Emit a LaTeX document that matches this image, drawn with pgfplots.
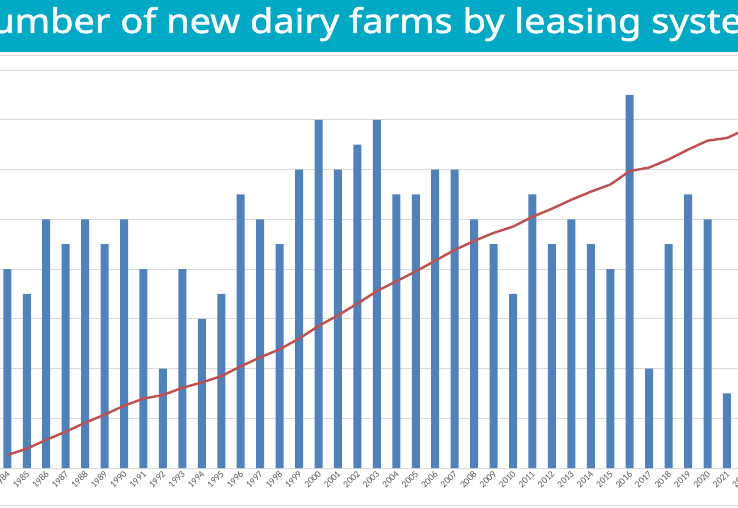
\documentclass[border=0pt]{standalone}
\usepackage{fontspec}
\setmainfont{Carlito}
\newfontfamily\titlefont[FakeBold=1.3]{Noto Sans}
\usepackage{pgfplots}
\pgfplotsset{compat=1.18}
\definecolor{barblue}{HTML}{4F81BD}
\definecolor{linered}{HTML}{C0504D}
\definecolor{titlebg}{HTML}{00A9C6}
\definecolor{gridgray}{HTML}{D9D9D9}
\definecolor{labgray}{HTML}{595959}
\begin{document}
\begin{tikzpicture}[x=1pt,y=1pt]
\useasboundingbox (0,0) rectangle (738,507);
\clip (0,0) rectangle (738,507);
\fill[titlebg] (0,454.5) rectangle (738,507);
\node[white, font=\titlefont\fontsize{34}{34}\selectfont, anchor=base, inner sep=0pt] at (370,474) {\scalebox{1.115}[1]{Number of new dairy farms by leasing system}};
\draw[gridgray] (0,452) -- (738,452);
\draw[gridgray] (0,2) -- (738,2);
\begin{axis}[
  at={(-2.4pt,39pt)}, anchor=south west,
  scale only axis, width=758.55pt, height=398pt,
  xmin=1983.5, xmax=2022.5, ymin=0, ymax=16,
  axis x line*=bottom, axis y line*=left,
  x axis line style={gridgray, line width=0.8pt},
  y axis line style={draw=none},
  ytick={2,4,...,16}, yticklabels={},
  ymajorgrids, grid style={gridgray, line width=0.8pt},
  xtick={1984,...,2022},
  major tick length=0pt,
  /pgf/number format/1000 sep={},
  /pgf/number format/assume math mode=true,
  xticklabel style={rotate=45, anchor=east, text=labgray, yshift=-4pt, xshift=1pt, font=\fontsize{9.5}{10}\selectfont},
]
\addplot[ybar, bar width=8pt, bar shift=0pt, fill=barblue, draw=none] coordinates {
(1984,8) (1985,7) (1986,10) (1987,9) (1988,10) (1989,9) (1990,10) (1991,8)
(1992,4) (1993,8) (1994,6) (1995,7) (1996,11) (1997,10) (1998,9) (1999,12)
(2000,14) (2001,12) (2002,13) (2003,14) (2004,11) (2005,11) (2006,12) (2007,12)
(2008,10) (2009,9) (2010,7) (2011,11) (2012,9) (2013,10) (2014,9) (2015,8)
(2016,15) (2017,4) (2018,9) (2019,11) (2020,10) (2021,3) (2022,10)
};
\end{axis}
\begin{axis}[
  at={(-2.4pt,39pt)}, anchor=south west,
  scale only axis, width=758.55pt, height=398pt,
  xmin=1983.5, xmax=2022.5, ymin=-6.52, ymax=437.9,
  hide axis, clip=false,
]
\addplot[linered, line width=2.4pt, line join=round] coordinates {
(1984,8) (1985,15) (1986,25) (1987,34) (1988,44) (1989,53) (1990,63) (1991,71)
(1992,75) (1993,83) (1994,89) (1995,96) (1996,107) (1997,117) (1998,126) (1999,138)
(2000,152) (2001,164) (2002,177) (2003,191) (2004,202) (2005,213) (2006,225) (2007,237)
(2008,247) (2009,256) (2010,263) (2011,274) (2012,283) (2013,293) (2014,302) (2015,310)
(2016,325) (2017,329) (2018,338) (2019,349) (2020,359) (2021,362) (2022,372)
};
\end{axis}
\end{tikzpicture}
\end{document}
